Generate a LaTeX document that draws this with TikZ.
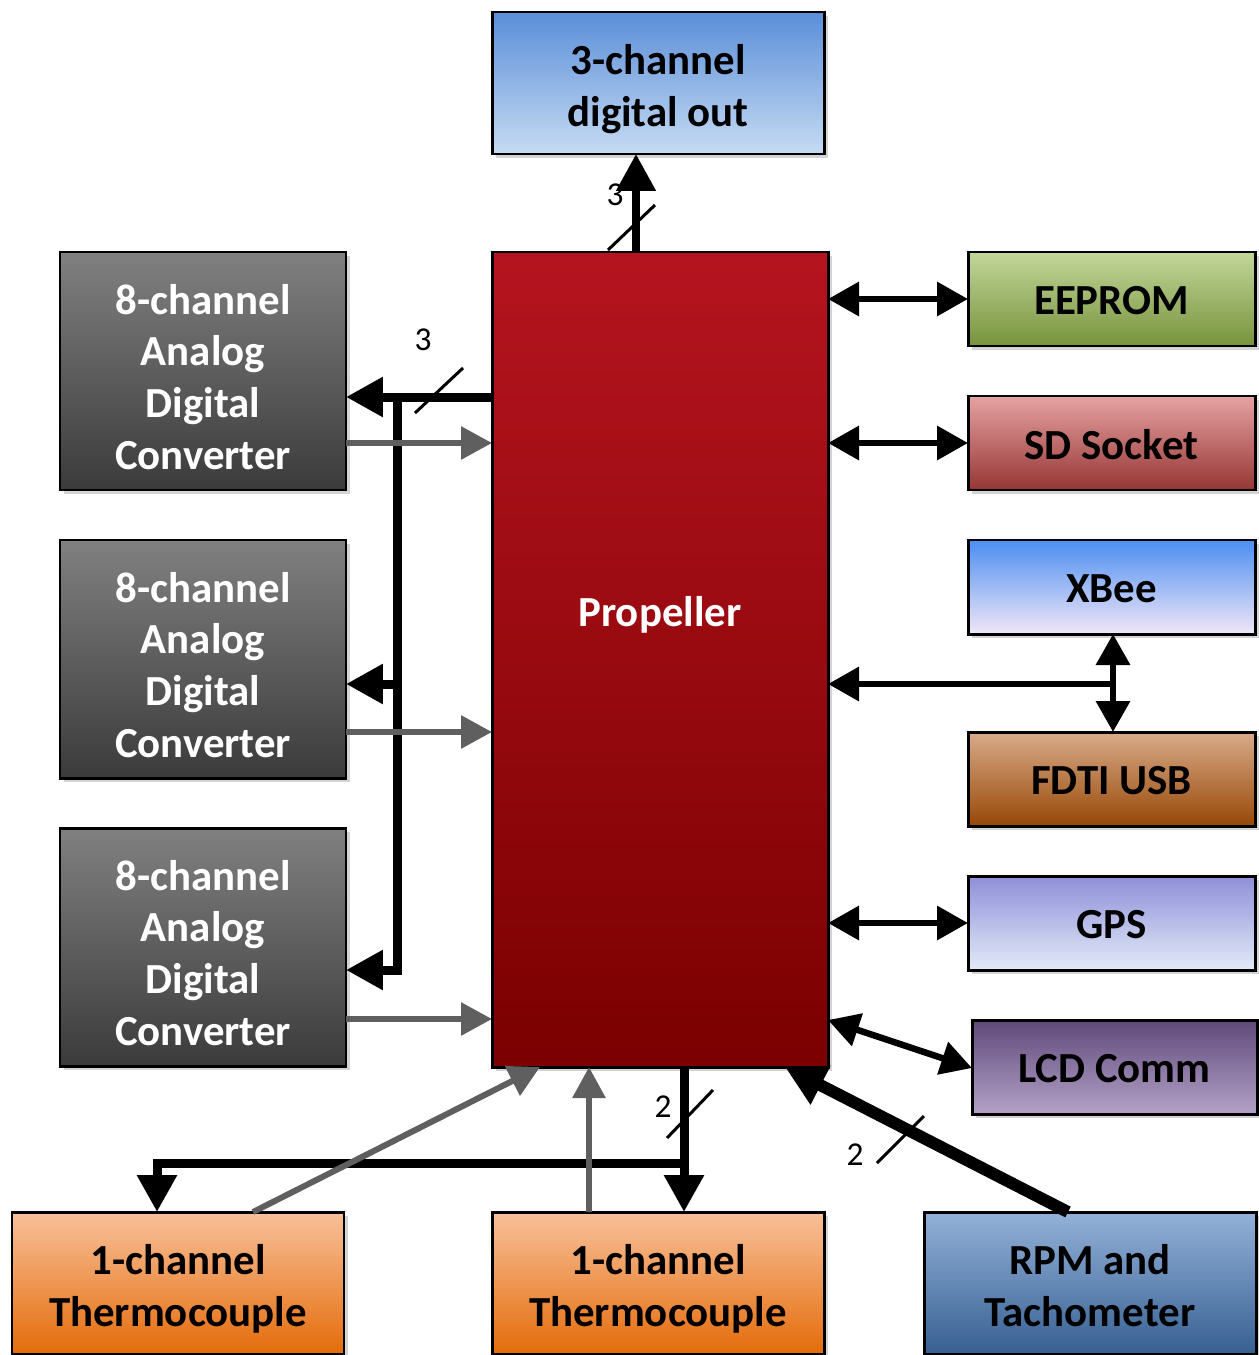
\documentclass[tikz,border=0pt]{standalone}
\usepackage{fontspec}
\setmainfont{Carlito}
\usetikzlibrary{arrows.meta,shadows}
\definecolor{doutT}{HTML}{5A8ED8}\definecolor{doutB}{HTML}{C6DBF3}
\definecolor{propT}{HTML}{B5141F}\definecolor{propB}{HTML}{7B0000}
\definecolor{adcT}{HTML}{808080}\definecolor{adcB}{HTML}{3B3B3B}
\definecolor{eepT}{HTML}{C2D69A}\definecolor{eepB}{HTML}{77933C}
\definecolor{sdT}{HTML}{E6A2A2}\definecolor{sdB}{HTML}{963634}
\definecolor{xbT}{HTML}{4B8EF2}\definecolor{xbB}{HTML}{F2E7F7}
\definecolor{ftT}{HTML}{D9AB8A}\definecolor{ftB}{HTML}{974806}
\definecolor{gpsT}{HTML}{8E8FD8}\definecolor{gpsB}{HTML}{E3EBF8}
\definecolor{lcdT}{HTML}{5F497A}\definecolor{lcdB}{HTML}{B3A2C8}
\definecolor{thT}{HTML}{F8C09A}\definecolor{thB}{HTML}{E46C0A}
\definecolor{rpmT}{HTML}{93B1D8}\definecolor{rpmB}{HTML}{376092}
\definecolor{grayarr}{HTML}{5F5F5F}
\begin{document}
\begin{tikzpicture}[x=0.02cm,y=-0.02cm,
  box/.style={draw=black, line width=1.7pt, inner sep=0pt, outer sep=0pt,
    drop shadow={shadow xshift=0.08cm, shadow yshift=-0.08cm, opacity=0.35}},
  lbl/.style={align=center, inner sep=0pt, font=\bfseries\fontsize{24.4}{29.5}\selectfont},
  tx/.style={label={[lbl, yshift=-0.12cm]center:#1}},
  txr/.style={label={[lbl, yshift=-0.06cm]center:#1}},
  txw/.style={label={[lbl, text=white, yshift=-0.12cm]center:#1}},
  tx1/.style={label={[lbl, yshift=-0.04cm]center:#1}},
  wh/.style 2 args={minimum width=#1*0.02cm, minimum height=#2*0.02cm},
  shd/.style 2 args={top color=#1, bottom color=#2},
  bus/.style={line width=0.18cm, line join=miter, draw=black},
  bigtip/.style={-{Triangle[length=0.74cm,width=0.76cm]}},
  dbl/.style={line width=0.13cm, draw=black, {Triangle[length=0.62cm,width=0.66cm]}-{Triangle[length=0.62cm,width=0.66cm]}},
  garr/.style={line width=0.12cm, draw=grayarr, -{Triangle[length=0.62cm,width=0.64cm]}},
  slash/.style={line width=0.06cm, draw=black},
  num/.style={font=\fontsize{19}{22}\selectfont, inner sep=0pt}
]
\useasboundingbox (0,0) rectangle (1258,1355);

% boxes
\node[box, wh={332}{142}, shd={doutT}{doutB}, tx={3-channel\\digital out}] (dout) at (658,83) {};
\node[box, wh={336}{815}, shd={propT}{propB}] (prop) at (660,659.5) {};
\node[lbl, text=white] (proplbl) at (660,615) {Propeller};
\node[box, wh={286}{238}, shd={adcT}{adcB}, txw={8-channel\\Analog\\Digital\\Converter}] (adc1) at (203,371) {};
\node[box, wh={286}{238}, shd={adcT}{adcB}, txw={8-channel\\Analog\\Digital\\Converter}] (adc2) at (203,659) {};
\node[box, wh={286}{238}, shd={adcT}{adcB}, txw={8-channel\\Analog\\Digital\\Converter}] (adc3) at (203,947) {};
\node[box, wh={287}{94}, shd={eepT}{eepB}, tx1={EEPROM}] (eeprom) at (1111.5,299) {};
\node[box, wh={287}{94}, shd={sdT}{sdB}, tx1={SD Socket}] (sd) at (1111.5,443) {};
\node[box, wh={287}{94}, shd={xbT}{xbB}, tx1={XBee}] (xbee) at (1111.5,587) {};
\node[box, wh={287}{94}, shd={ftT}{ftB}, tx1={FDTI USB}] (fdti) at (1111.5,779) {};
\node[box, wh={287}{94}, shd={gpsT}{gpsB}, tx1={GPS}] (gps) at (1111.5,923) {};
\node[box, wh={285}{94}, shd={lcdT}{lcdB}, tx1={LCD Comm}] (lcd) at (1114.5,1067) {};
\node[box, wh={332}{142}, shd={thT}{thB}, tx={1-channel\\Thermocouple}] (th1) at (178,1283) {};
\node[box, wh={332}{142}, shd={thT}{thB}, tx={1-channel\\Thermocouple}] (th2) at (658,1283) {};
\node[box, wh={332}{142}, shd={rpmT}{rpmB}, txr={RPM and\\Tachometer}] (rpm) at (1090,1283) {};

% propeller -> digital out
\draw[bus, line width=0.16cm, bigtip] (prop.north -| 636,0) -- (dout.south -| 636,0);
\draw[slash] (608,250) -- (655,205);
\node[num] (l3a) at (615,195) {3};

% ADC bus
\draw[bus, bigtip] (prop.west |- 0,397) -- (adc1.east |- 0,397);
\draw[bus, bigtip] (397,397) -- (397,970) -- (adc3.east |- 0,970);
\draw[bus, bigtip] (397,684) -- (adc2.east |- 0,684);
\draw[slash] (415,413) -- (463,368);
\node[num] (l3b) at (423,340) {3};

% ADC -> propeller (gray)
\draw[garr] (adc1.east |- 0,443) -- (prop.west |- 0,443);
\draw[garr] (adc2.east |- 0,732) -- (prop.west |- 0,732);
\draw[garr] (adc3.east |- 0,1019) -- (prop.west |- 0,1019);

% right side
\draw[dbl] (prop.east |- eeprom.west) -- (eeprom.west);
\draw[dbl] (prop.east |- sd.west) -- (sd.west);
\draw[dbl] (prop.east |- gps.west) -- (gps.west);
\draw[line width=0.13cm, -{Triangle[length=0.62cm,width=0.66cm]}] (1116,684) -- (prop.east |- 0,684);
\draw[dbl] (xbee.south -| 1113,0) -- (fdti.north -| 1113,0);
\draw[dbl] (prop.east |- 0,1020) -- (lcd.west |- 0,1068);

% bottom: propeller -> thermocouples
\draw[bus, bigtip] (prop.south -| 684,0) -- (th2.north -| 684,0);
\draw[bus, bigtip] (688,1163) -- (157,1163) -- (th1.north -| 157,0);
\draw[slash] (667,1138) -- (713,1090);
\node[num] (l2a) at (663,1107) {2};

% thermocouples -> propeller (gray)
\draw[garr] (th1.north -| 253,0) -- (prop.south -| 540,0);
\draw[garr] (th2.north -| 589,0) -- (prop.south -| 589,0);

% RPM -> propeller
\draw[line width=0.24cm, -{Triangle[length=0.8cm,width=0.82cm]}] (rpm.north -| 1068,0) -- (prop.south -| 785,0);
\draw[slash] (877,1163) -- (924,1116);
\node[num] (l2b) at (855,1155) {2};
\end{tikzpicture}
\end{document}
